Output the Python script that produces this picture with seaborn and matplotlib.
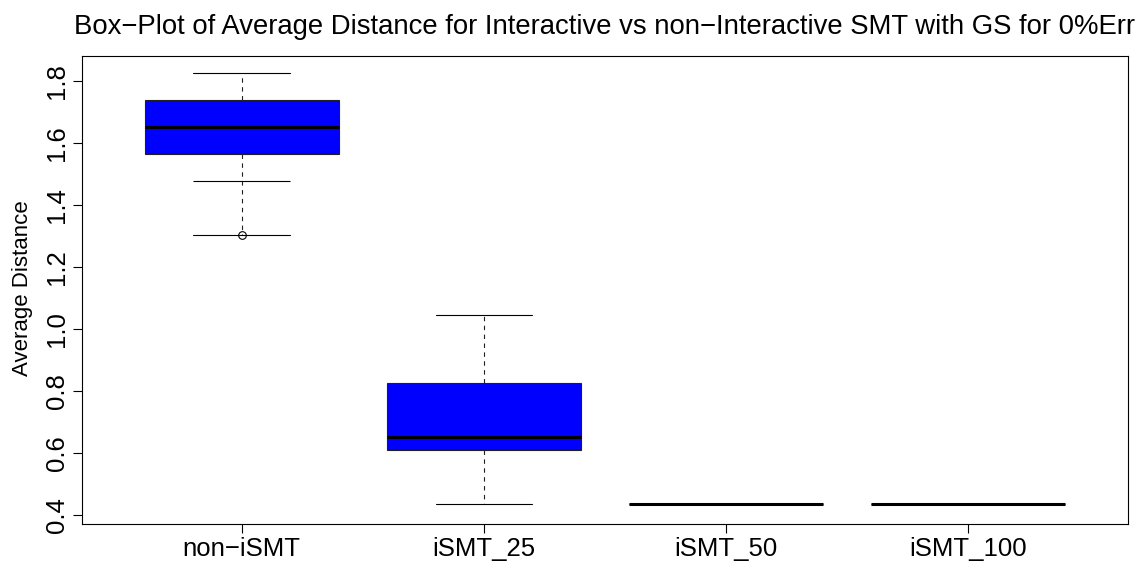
import matplotlib
matplotlib.use("Agg")
import matplotlib.pyplot as plt
import seaborn as sns
import numpy as np

# ---- data ----
groups   = ["non\u2212iSMT", "iSMT_25", "iSMT_50", "iSMT_100"]
whis_lo  = [1.305, 0.437, 0.436, 0.436]
q1       = [1.566, 0.609, 0.436, 0.436]
medians  = [1.652, 0.654, 0.436, 0.436]
q3       = [1.740, 0.827, 0.436, 0.436]
whis_hi  = [1.826, 1.045, 0.436, 0.436]
outliers = [[1.305], [], [], []]
extra_cap_group = [1]          # position of extra cap line
extra_cap_value = [1.479]
yticks = [0.4, 0.6, 0.8, 1.0, 1.2, 1.4, 1.6, 1.8]
title = "Box\u2212Plot of Average Distance for Interactive vs non\u2212Interactive SMT with GS for 0%Err"
ylabel = "Average Distance"

sns.set_theme(style="white")
plt.rcParams["font.family"] = ["Liberation Sans", "DejaVu Sans"]
plt.rcParams["axes.unicode_minus"] = True

fig = plt.figure(figsize=(11.48, 5.63), dpi=100)
ax = fig.add_axes([82/1148, 1 - 523.5/563, (1128-82)/1148, (523.5-56)/563])

stats = []
for i, g in enumerate(groups):
    stats.append(dict(label=g, whislo=whis_lo[i], q1=q1[i], med=medians[i],
                      q3=q3[i], whishi=whis_hi[i], fliers=outliers[i]))

positions = np.arange(1, len(groups) + 1)
bp = ax.bxp(stats, positions=positions, widths=0.8, patch_artist=True,
            showfliers=True,
            boxprops=dict(facecolor="#0000FF", edgecolor="#202020", linewidth=0.8),
            medianprops=dict(color="black", linewidth=2.2, solid_capstyle="butt"),
            whiskerprops=dict(color="#202020", linewidth=0.8, linestyle=(0, (4, 4))),
            capprops=dict(color="black", linewidth=0.8),
            capwidths=0.4,
            flierprops=dict(marker="o", markerfacecolor="none", markeredgecolor="black",
                            markersize=5.5, markeredgewidth=0.8))

ax.hlines(extra_cap_value, np.array(extra_cap_group) - 0.2, np.array(extra_cap_group) + 0.2,
          colors="black", linewidth=0.8)

lo = min(whis_lo); hi = max(whis_hi)
pad = (hi - lo) * 0.04
ax.set_ylim(lo - pad - 0.007, hi + pad)
ax.set_xlim(0.5 - 0.16, len(groups) + 0.5 + 0.16)

ax.set_yticks(yticks)
ax.set_yticklabels([f"{v:.1f}" for v in yticks], rotation=90, va="center", fontsize=18.5)
ax.set_xticks(positions)
ax.set_xticklabels(groups, fontsize=18.5)
ax.tick_params(axis="both", direction="out", length=6.5, width=0.8, color="black",
               left=True, bottom=True, pad=3, labelcolor="black")
for s in ax.spines.values():
    s.set_visible(True)
    s.set_color("black")
    s.set_linewidth(0.8)
ax.grid(False)
ax.set_facecolor("white")
ax.set_ylabel(ylabel, fontsize=16, color="black")
ax.yaxis.set_label_coords(-0.047, 0.503)
ax.set_title(title, fontsize=19.8, pad=16, color="black")

fig.savefig("out.png", dpi=100, facecolor="white")
